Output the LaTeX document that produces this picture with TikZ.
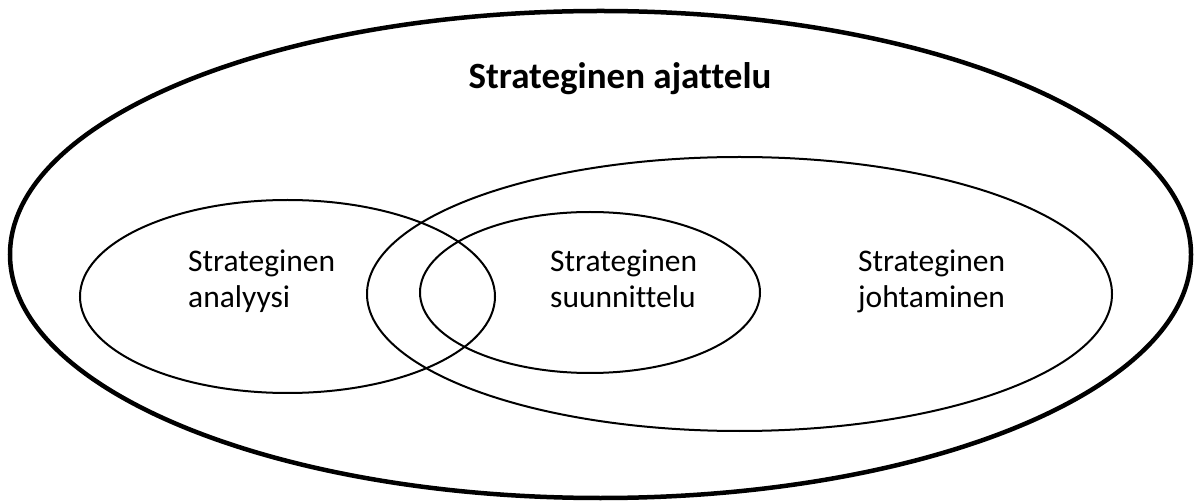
\documentclass[tikz,border=0pt]{standalone}
\usepackage{fontspec}
\setmainfont{Carlito}[Ligatures=NoCommon,RawFeature=-liga]
\begin{document}
\begin{tikzpicture}[x=1pt,y=-1pt,
  thin ring/.style={draw=black,line width=2pt},
  thick ring/.style={draw=black,line width=4.5pt},
  lbl/.style={anchor=base west,inner sep=0pt,font=\fontsize{31.5}{36}\selectfont},
  title/.style={anchor=base,inner sep=0pt,font=\fontsize{37}{44}\selectfont\bfseries}]
\useasboundingbox (0,0) rectangle (1194,502);
\draw[thick ring] (600.5,254.5) ellipse [x radius=590.5,y radius=243.5];
\draw[thin ring] (287.5,296.5) ellipse [x radius=207.5,y radius=96.5];
\draw[thin ring] (739.5,294) ellipse [x radius=372.5,y radius=137];
\draw[thin ring] (590,292.5) ellipse [x radius=170,y radius=80.5];
\node[title] (t) at (620,89) {Strateginen ajattelu};
\node[lbl] (a1) at (188,272) {Strateginen};
\node[lbl] (a2) at (188,308) {analyysi};
\node[lbl] (s1) at (550,272) {Strateginen};
\node[lbl] (s2) at (550,308) {suunnittelu};
\node[lbl] (j1) at (858,272) {Strateginen};
\node[lbl] (j2) at (858,308) {johtaminen};
\end{tikzpicture}
\end{document}
